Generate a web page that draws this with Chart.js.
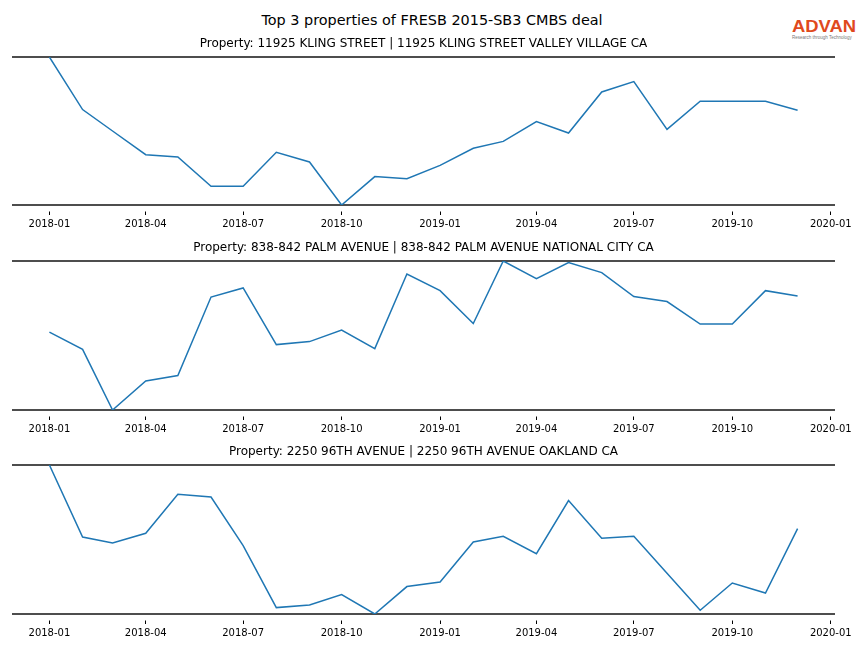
<!DOCTYPE html>
<html>
<head>
<meta charset="utf-8">
<script src="https://cdn.jsdelivr.net/npm/chart.js@4.4.1/dist/chart.umd.min.js"></script>
<style>
  body { margin: 0; background: #fff; }
  #wrap { position: relative; width: 864px; height: 648px; font-family: "DejaVu Sans", sans-serif; }
  #suptitle { position: absolute; left: 0; width: 864px; top: 12px; text-align: center; font-size: 14.4px; color: #000; }
  #logo { position: absolute; left: 792px; top: 18px; width: 70px; }
  #logo .name { font-family: "Liberation Sans", Arial, sans-serif; font-weight: bold; font-size: 16px; color: #e0491d; transform: scaleX(1.15); transform-origin: left top; line-height: 17px; }
  #logo .tag { font-family: "Liberation Sans", Arial, sans-serif; font-size: 4.5px; color: #777; white-space: nowrap; line-height: 6px; }
  canvas { position: absolute; left: 0; }
</style>
</head>
<body>
<div id="wrap">
  <div id="suptitle">Top 3 properties of FRESB 2015-SB3 CMBS deal</div>
  <div id="logo"><div class="name">ADVAN</div><div class="tag">Research through Technology</div></div>
  <canvas id="c1" width="864" height="204" style="top:30px"></canvas>
  <canvas id="c2" width="864" height="205" style="top:234px"></canvas>
  <canvas id="c3" width="864" height="205" style="top:438px"></canvas>
</div>
<script>
// months of the series, 2018-01 .. 2019-12
const months = ['2018-01','2018-02','2018-03','2018-04','2018-05','2018-06','2018-07','2018-08','2018-09','2018-10','2018-11','2018-12',
                '2019-01','2019-02','2019-03','2019-04','2019-05','2019-06','2019-07','2019-08','2019-09','2019-10','2019-11','2019-12'];
const tickLabels = ['2018-01','2018-04','2018-07','2018-10','2019-01','2019-04','2019-07','2019-10','2020-01'];

const titles = [
  'Property: 11925 KLING STREET | 11925 KLING STREET VALLEY VILLAGE CA',
  'Property: 838-842 PALM AVENUE | 838-842 PALM AVENUE NATIONAL CITY CA',
  'Property: 2250 96TH AVENUE | 2250 96TH AVENUE OAKLAND CA'
];

// relative visits (0 = min, 100 = max of each property)
const kling = [100, 64.5, 50, 34.0, 32.4, 12.6, 12.6, 35.6, 29.1, 0, 19.2, 17.8,
               26.8, 38.3, 43.0, 56.4, 48.6, 76.4, 83.4, 51.1, 70.1, 70.1, 70.1, 64.0];
const palm = [52.3, 40.7, 0, 19.5, 23.1, 75.8, 81.9, 43.9, 45.9, 53.7, 41.2, 91.3,
              80.1, 58.0, 100, 88.2, 99.0, 92.2, 76.1, 72.8, 57.7, 57.7, 80.1, 76.5];
const oakland = [100, 51.7, 47.7, 54.2, 80.3, 78.5, 45.9, 4.3, 6.0, 13.0, 0, 18.4,
                 21.5, 48.3, 52.1, 40.5, 76.1, 50.8, 52.1, 27.3, 2.5, 20.8, 14.1, 57.3];

const DAY = 86400000;
const t0 = Date.UTC(2018, 0, 1);
function toDays(label) {
  const [y, m] = label.split('-').map(Number);
  return (Date.UTC(y, m - 1, 1) - t0) / DAY;
}
const xs = months.map(toDays);
const span = xs[xs.length - 1] - xs[0];
const tickDays = tickLabels.map(toDays);

function makeChart(id, title, values) {
  return new Chart(document.getElementById(id), {
    type: 'line',
    data: {
      datasets: [{
        data: values.map((v, i) => ({ x: xs[i], y: v })),
        borderColor: '#1f77b4',
        borderWidth: 1.5,
        pointRadius: 0,
        tension: 0,
        fill: false
      }]
    },
    options: {
      responsive: false,
      animation: false,
      events: [],
      layout: { padding: { left: 12, right: 29, top: 0, bottom: 0 } },
      plugins: {
        legend: { display: false },
        tooltip: { enabled: false },
        title: {
          display: true,
          text: title,
          color: '#000',
          font: { family: 'DejaVu Sans', size: 12, weight: 'normal', lineHeight: 1.2 },
          padding: { top: 7, bottom: 5.6 }
        }
      },
      scales: {
        x: {
          type: 'linear',
          min: xs[0] - span * 0.05,
          max: xs[xs.length - 1] + span * 0.05,
          afterBuildTicks: (s) => { s.ticks = tickDays.map(v => ({ value: v })); },
          afterFit: (s) => { s.height = 29; },
          border: { display: false },
          grid: {
            drawOnChartArea: false,
            drawTicks: true,
            tickLength: 10,
            tickColor: '#000',
            tickWidth: 1,
            tickBorderDash: [0, 6.5, 3.5, 100]
          },
          ticks: {
            autoSkip: false,
            maxRotation: 0,
            padding: 3,
            color: '#000',
            font: { family: 'DejaVu Sans', size: 10 },
            callback: (v) => tickLabels[tickDays.indexOf(v)]
          }
        },
        y: {
          min: 0,
          max: 100,
          afterBuildTicks: (s) => { s.ticks = [{ value: 0 }, { value: 100 }]; },
          afterFit: (s) => { s.width = 0; },
          border: { display: false },
          grid: { color: '#4d4d4d', lineWidth: 2, drawTicks: false },
          ticks: { display: false }
        }
      }
    }
  });
}

makeChart('c1', titles[0], kling);
makeChart('c2', titles[1], palm);
makeChart('c3', titles[2], oakland);
</script>
</body>
</html>
